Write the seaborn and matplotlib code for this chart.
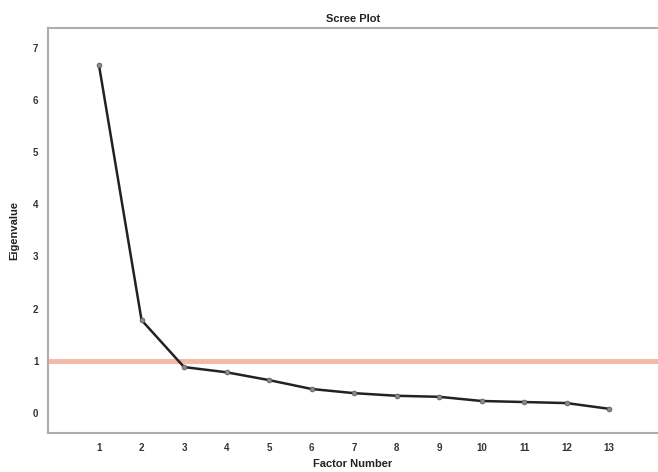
import matplotlib
matplotlib.use("Agg")
import matplotlib.pyplot as plt
import seaborn as sns
import pandas as pd

factors = [1, 2, 3, 4, 5, 6, 7, 8, 9, 10, 11, 12, 13]
eigenvalues = [6.66, 1.78, 0.88, 0.78, 0.63, 0.46, 0.38, 0.33, 0.31, 0.23, 0.21, 0.19, 0.08]
y_ticks = [0, 1, 2, 3, 4, 5, 6, 7]
threshold = 1.0

sns.set_style("white")
plt.rcParams['font.family'] = ['Liberation Sans', 'DejaVu Sans']

df = pd.DataFrame({"Factor Number": factors, "Eigenvalue": eigenvalues})

fig = plt.figure(figsize=(6.58, 4.72), dpi=100)
ax = fig.add_axes([0.073, 0.083, 0.927, 0.858])

ax.axhline(threshold, color="#f4b8a6", lw=3.5, zorder=1)
sns.lineplot(data=df, x="Factor Number", y="Eigenvalue", ax=ax, color="#222222",
             lw=1.8, marker="o", markersize=3.5, markerfacecolor="#8a8a8a",
             markeredgecolor="#555555", markeredgewidth=0.5, zorder=3)

ax.set_xlim(-0.2, 14.15)
ax.set_ylim(-0.38, 7.38)
ax.set_xticks(factors)
ax.set_yticks(y_ticks)
ax.tick_params(axis="both", direction="out", length=3, width=0.8, color="#999999",
               labelsize=7, labelcolor="#333333", pad=4)
for lab in ax.get_xticklabels() + ax.get_yticklabels():
    lab.set_fontweight("bold")

for s in ["left", "bottom", "top"]:
    ax.spines[s].set_visible(True)
    ax.spines[s].set_color("#b3aba5")
    ax.spines[s].set_linewidth(1.5)
ax.spines["right"].set_visible(False)

ax.set_xlabel("Factor Number", fontsize=8, fontweight="bold", color="#222222", labelpad=5)
ax.set_ylabel("Eigenvalue", fontsize=8, fontweight="bold", color="#222222", labelpad=10)
ax.set_title("Scree Plot", fontsize=8, fontweight="bold", color="#222222", pad=4)

fig.savefig("out.png", dpi=100)
